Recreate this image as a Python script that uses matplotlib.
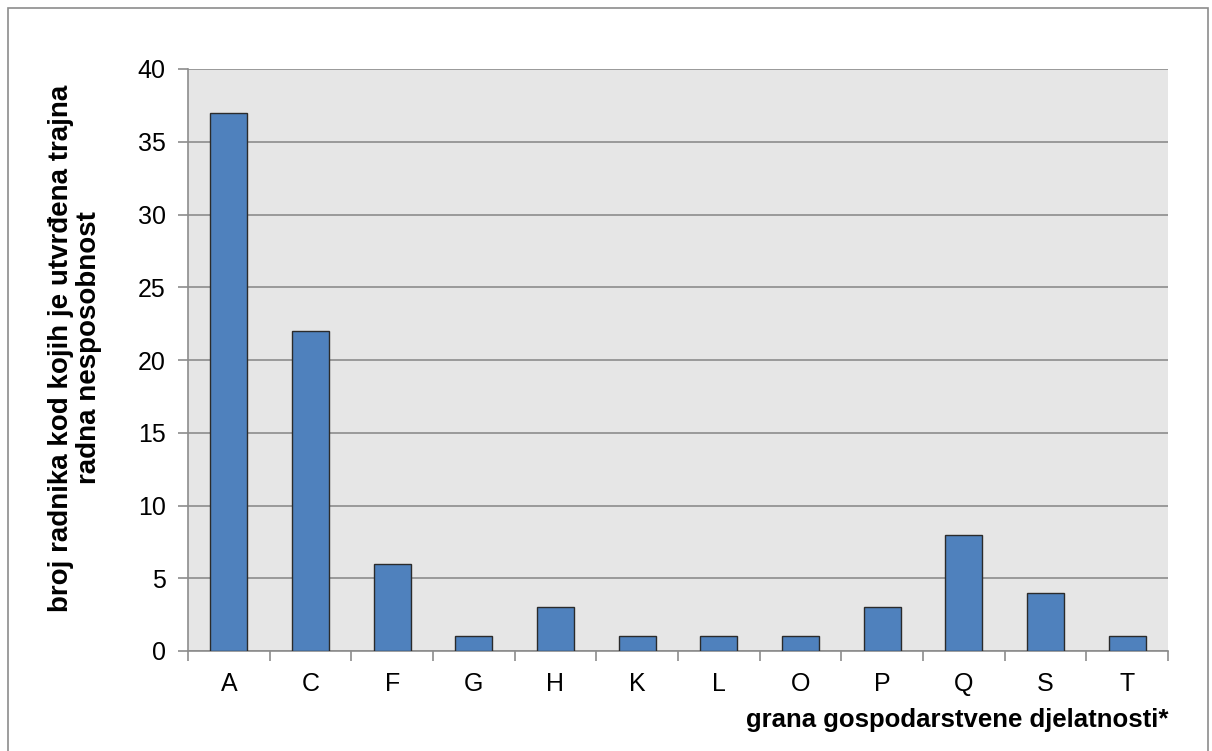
import matplotlib
matplotlib.use("Agg")
import matplotlib.pyplot as plt
import numpy as np
from matplotlib.patches import Rectangle

# ── Data ──────────────────────────────────────────────────────────────────────
categories = ["A", "C", "F", "G", "H", "K", "L", "O", "P", "Q", "S", "T"]
workers = [37, 22, 6, 1, 3, 1, 1, 1, 3, 8, 4, 1]
y_ticks = [0, 5, 10, 15, 20, 25, 30, 35, 40]

ylabel = "broj radnika kod kojih je utvrđena trajna\nradna nesposobnost"
xlabel = "grana gospodarstvene djelatnosti*"

plt.rcParams["font.family"] = ["Liberation Sans", "DejaVu Sans"]

W, H = 1212, 751
fig = plt.figure(figsize=(W / 100, H / 100), dpi=100)

# outer chart border (bottom edge falls outside the image)
fig.patches.append(Rectangle((8 / W, -0.05), 1200 / W, 1 - 8 / H + 0.05,
                             transform=fig.transFigure, fill=False,
                             edgecolor="#8c8c8c", lw=1.2))

ax = fig.add_axes([188 / W, 1 - 651 / H, (1168 - 188) / W, (651 - 69) / H])
ax.set_facecolor("#e6e6e6")

x = np.arange(len(categories))
ax.bar(x, workers, width=0.45, color="#4f81bd", edgecolor="#2b2b2b",
       linewidth=1.0, zorder=3)

ax.set_xlim(-0.5, len(categories) - 0.5)
ax.set_ylim(0, 40)
ax.set_yticks(y_ticks)
ax.yaxis.grid(True, color="#8c8c8c", lw=1.2, zorder=1)

# category labels centred, tick marks between categories
ax.set_xticks(x)
ax.set_xticklabels(categories, fontsize=18)
ax.tick_params(axis="x", length=0, pad=15)
ax.set_xticks(np.arange(-0.5, len(categories)), minor=True)
ax.tick_params(axis="x", which="minor", length=7, color="#8c8c8c", width=1.2)
ax.tick_params(axis="y", labelsize=18, length=7, color="#8c8c8c", width=1.2, pad=9)

for side in ["top", "right"]:
    ax.spines[side].set_visible(False)
for side in ["left", "bottom"]:
    ax.spines[side].set_color("#8c8c8c")
    ax.spines[side].set_linewidth(1.2)

fig.text(75 / W, 1 - 348 / H, ylabel, rotation=90, ha="center", va="center",
         fontsize=20, fontweight="bold", linespacing=1.12)
fig.text(1168 / W, 1 - 720 / H, xlabel, ha="right", va="center",
         fontsize=18.5, fontweight="bold")

fig.savefig("out.png", dpi=100)
